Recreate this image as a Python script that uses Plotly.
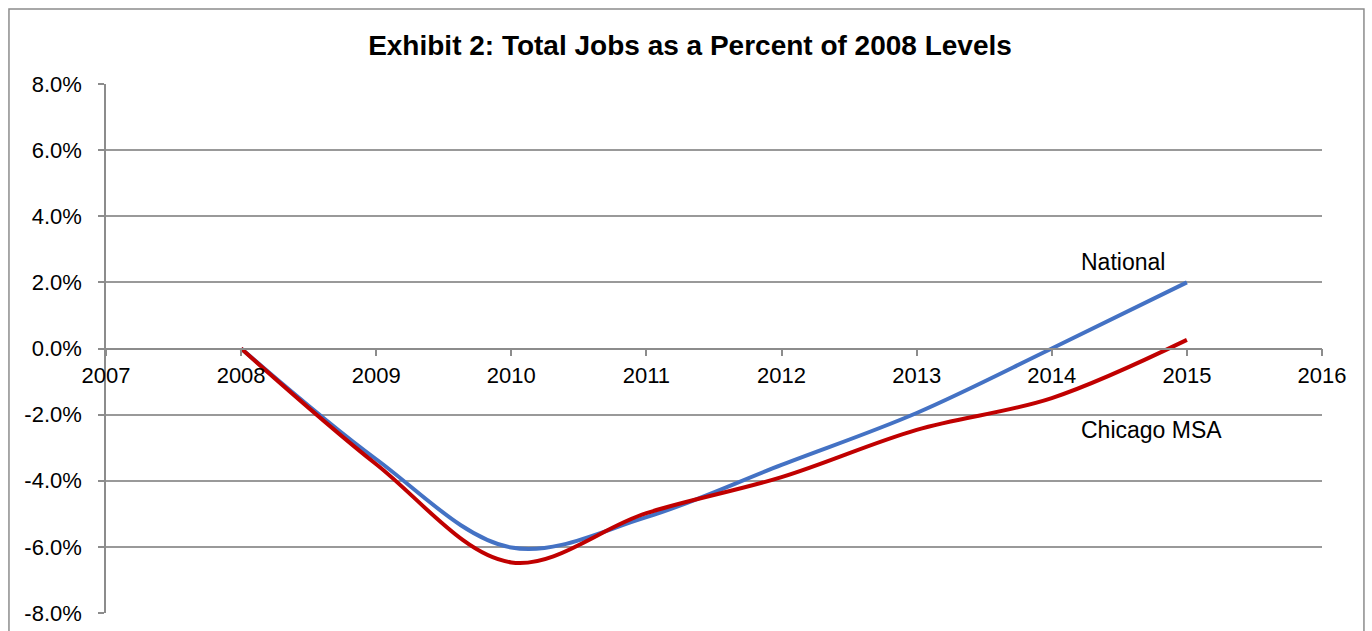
import plotly.graph_objects as go

# Total jobs relative to 2008 levels (percent)
years = [2008, 2009, 2010, 2011, 2012, 2013, 2014, 2015]
national = [0.0, -3.35, -6.02, -5.1, -3.52, -1.95, 0.0, 2.0]
chicago = [0.0, -3.5, -6.47, -4.98, -3.89, -2.46, -1.5, 0.26]

x_ticks = [2007, 2008, 2009, 2010, 2011, 2012, 2013, 2014, 2015, 2016]
y_ticks = [-8, -6, -4, -2, 0, 2, 4, 6, 8]
y_tick_labels = ["-8.0%", "-6.0%", "-4.0%", "-2.0%", "0.0%", "2.0%", "4.0%", "6.0%", "8.0%"]

FONT = "Liberation Sans, Arial, sans-serif"

fig = go.Figure()
fig.add_trace(go.Scatter(
    x=years, y=national, mode="lines", name="National",
    line=dict(color="#4472C4", width=4, shape="spline", smoothing=1.0),
))
fig.add_trace(go.Scatter(
    x=years, y=chicago, mode="lines", name="Chicago MSA",
    line=dict(color="#C00000", width=4, shape="spline", smoothing=1.0),
))

fig.add_annotation(x=2014.53, y=2.62, text="National", showarrow=False,
                   font=dict(family=FONT, size=23, color="#000"))
fig.add_annotation(x=2014.74, y=-2.47, text="Chicago MSA", showarrow=False,
                   font=dict(family=FONT, size=23, color="#000"))

# outer chart frame
fig.add_shape(type="rect", xref="paper", yref="paper",
              x0=-0.0798, x1=1.0345, y0=-0.06, y1=1.1418,
              line=dict(color="#8c8c8c", width=1.5), layer="below")

fig.update_layout(
    width=1372, height=631,
    margin=dict(l=106, r=50, t=84, b=18),
    paper_bgcolor="white", plot_bgcolor="white",
    showlegend=False,
    title=dict(text="<b>Exhibit 2: Total Jobs as a Percent of 2008 Levels</b>",
               x=690 / 1372, xanchor="center", y=1 - 45 / 631, yanchor="middle",
               font=dict(family=FONT, size=28, color="#000")),
    font=dict(family=FONT, size=22, color="#000"),
    xaxis=dict(
        range=[2007, 2016], tickvals=x_ticks, ticktext=[str(v) for v in x_ticks],
        showgrid=False, zeroline=False, automargin=False,
        showline=True, linecolor="#8c8c8c", linewidth=1.5,
        ticks="outside", ticklen=7, tickcolor="#8c8c8c", tickwidth=1.5,
        anchor="free", position=0.5, ticklabelstandoff=0,
        tickfont=dict(family=FONT, size=22, color="#000"),
    ),
    yaxis=dict(
        range=[-8, 8], tickvals=y_ticks, ticktext=y_tick_labels,
        showgrid=True, gridcolor="#999999", gridwidth=1.5, zeroline=False,
        automargin=False,
        showline=True, linecolor="#8c8c8c", linewidth=1.5,
        ticks="outside", ticklen=6, tickcolor="#8c8c8c", tickwidth=1.5,
        ticklabelstandoff=12,
        tickfont=dict(family=FONT, size=22, color="#000"),
    ),
)

fig.write_html("out.html")
